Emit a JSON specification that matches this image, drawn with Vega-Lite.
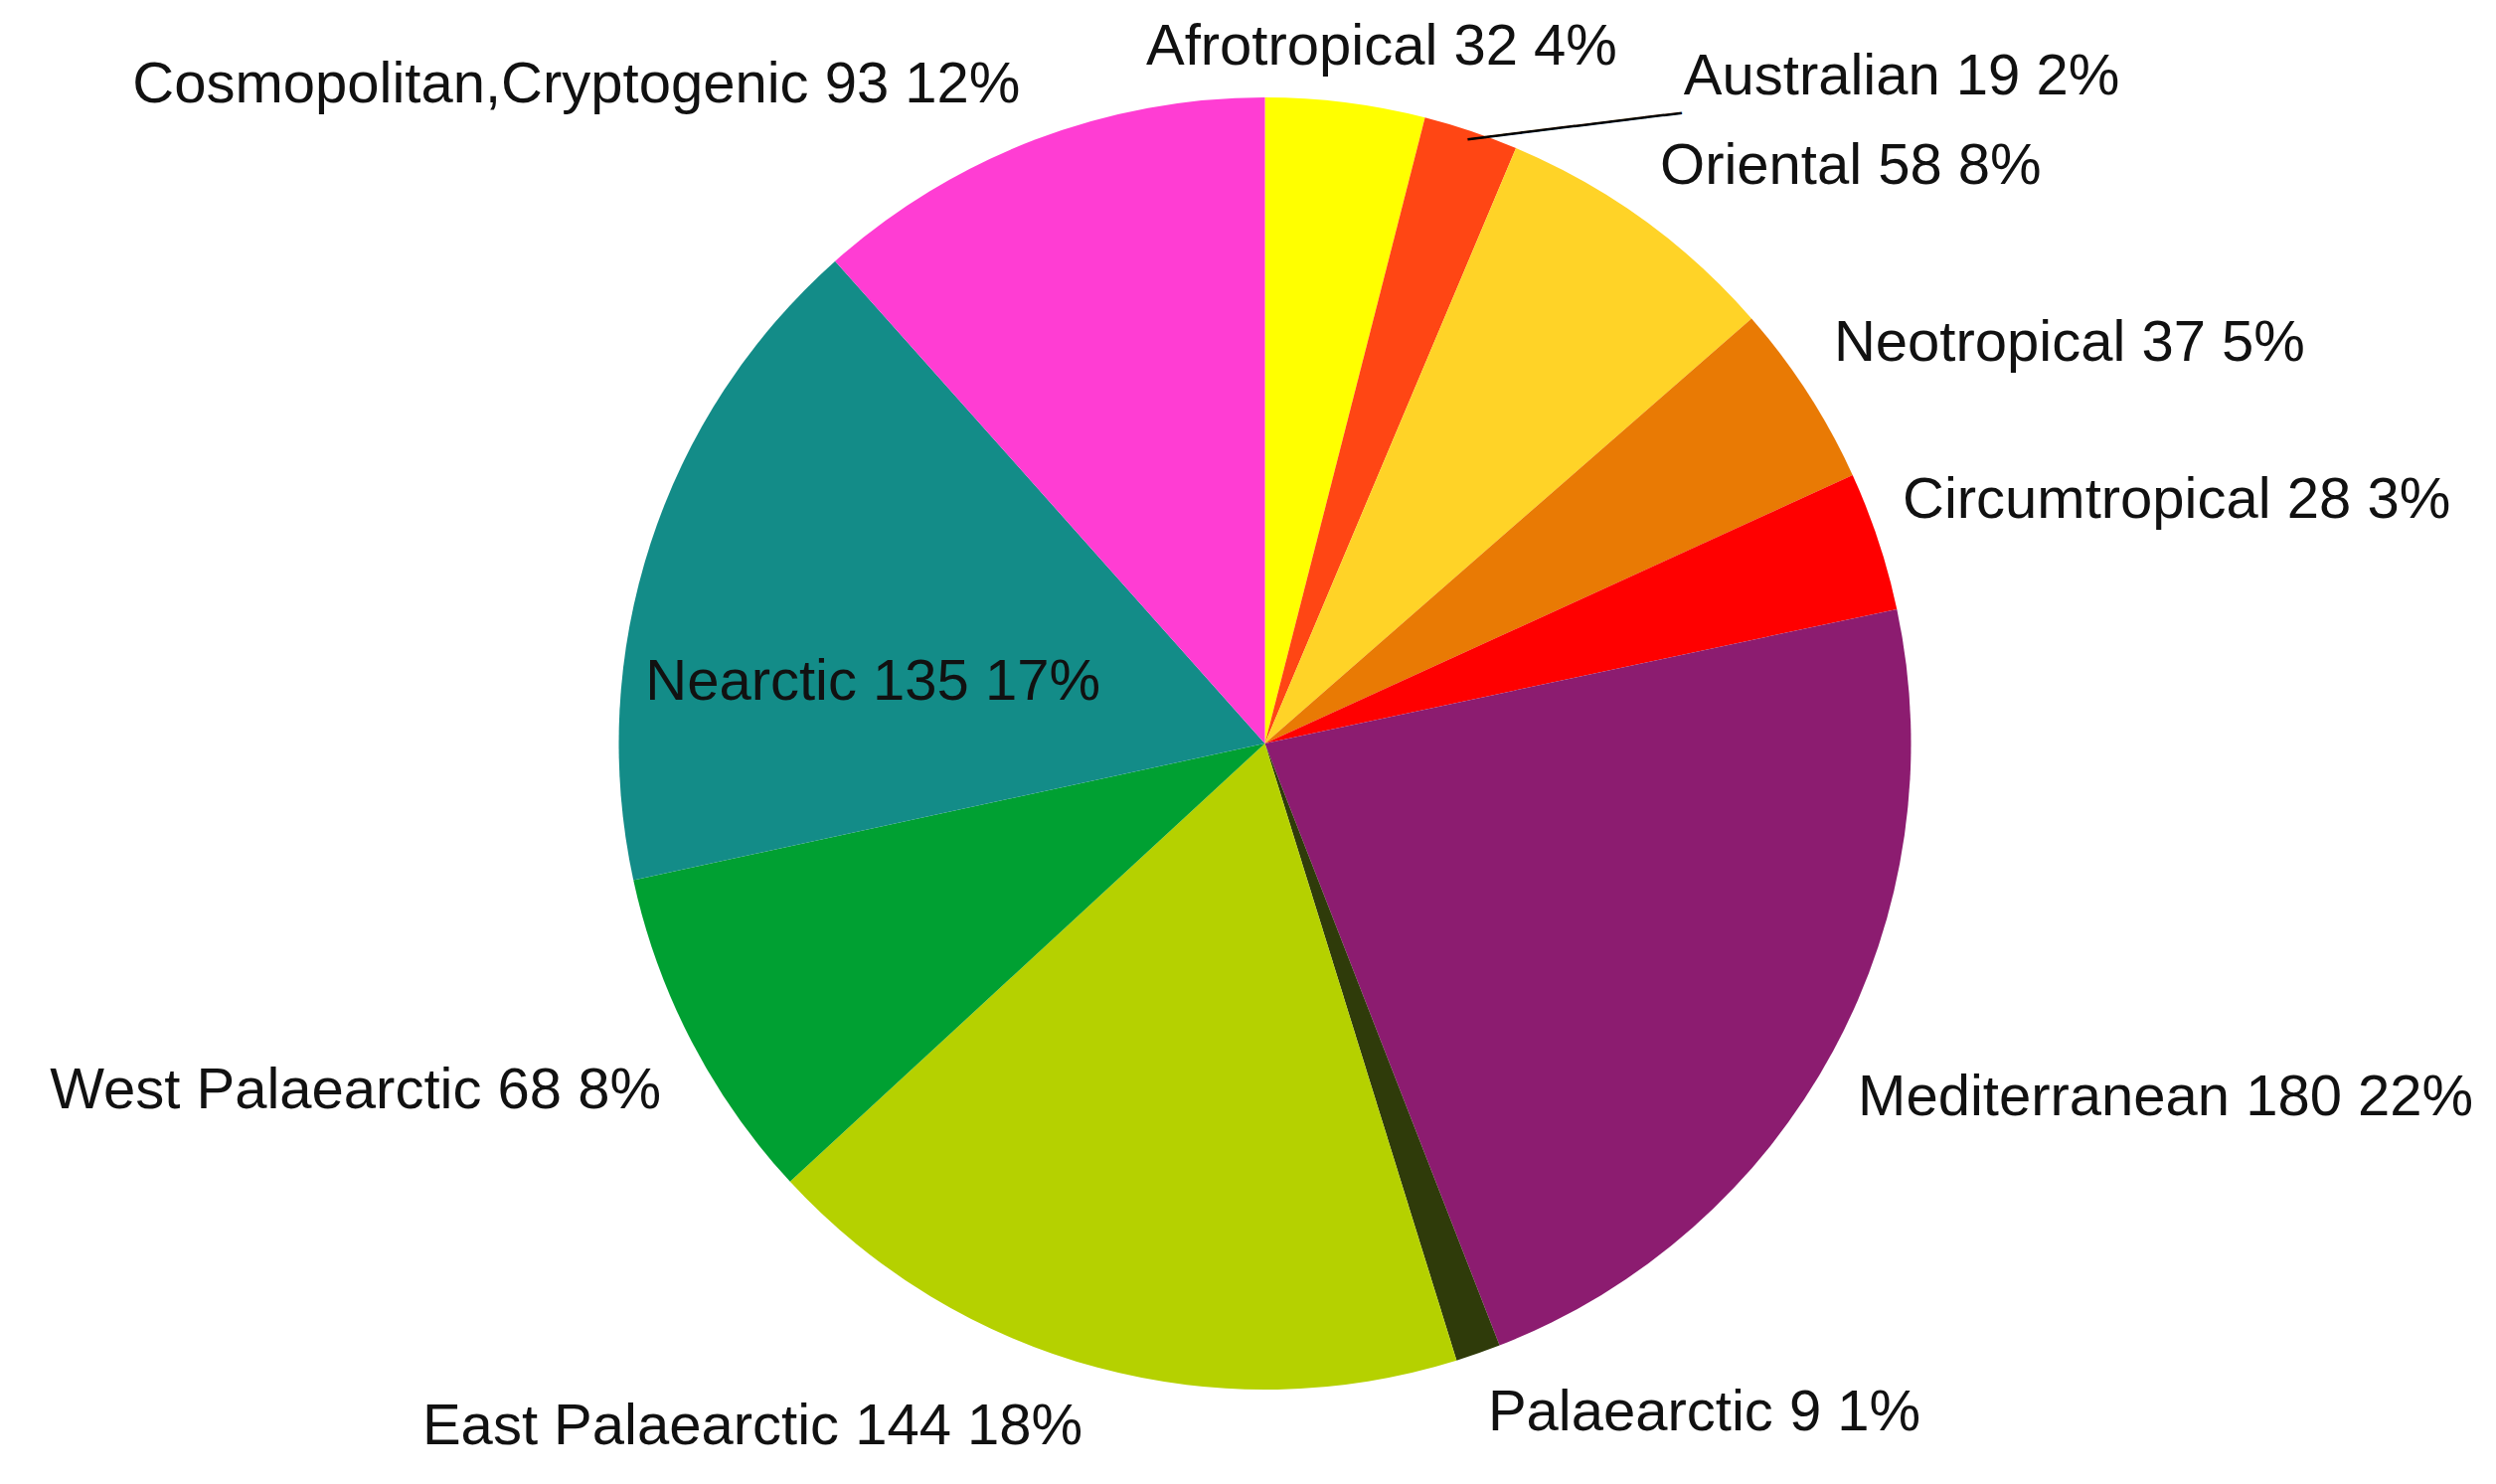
{
  "$schema": "https://vega.github.io/schema/vega-lite/v6.json",
  "width": 2477,
  "height": 1490,
  "autosize": "none",
  "padding": {"left": 34, "top": 3, "right": 0, "bottom": 0},
  "background": "white",
  "config": {"view": {"stroke": null}},
  "data": {
    "values": [
      {"region": "Afrotropical", "count": 32, "pct": 4},
      {"region": "Australian", "count": 19, "pct": 2},
      {"region": "Oriental", "count": 58, "pct": 8},
      {"region": "Neotropical", "count": 37, "pct": 5},
      {"region": "Circumtropical", "count": 28, "pct": 3},
      {"region": "Mediterranean", "count": 180, "pct": 22},
      {"region": "Palaearctic", "count": 9, "pct": 1},
      {"region": "East Palaearctic", "count": 144, "pct": 18},
      {"region": "West Palaearctic", "count": 68, "pct": 8},
      {"region": "Nearctic", "count": 135, "pct": 17},
      {"region": "Cosmopolitan,Cryptogenic", "count": 93, "pct": 12}
    ]
  },
  "transform": [
    {"window": [{"op": "row_number", "as": "idx"}]},
    {"stack": "count", "groupby": [], "sort": [{"field": "idx", "order": "ascending"}], "as": ["t0", "t1"]},
    {"calculate": "(datum.t0 + datum.t1) / 2", "as": "mid"},
    {"calculate": "datum.region + ' ' + datum.count + ' ' + datum.pct + '%'", "as": "label"}
  ],
  "layer": [
    {
      "mark": {"type": "arc", "outerRadius": 650, "stroke": null},
      "encoding": {
        "theta": {"field": "t0", "type": "quantitative", "stack": null, "scale": {"domain": [0, 803]}},
        "theta2": {"field": "t1"},
        "color": {
          "field": "region", "type": "nominal", "legend": null,
          "scale": {
            "domain": ["Afrotropical", "Australian", "Oriental", "Neotropical", "Circumtropical", "Mediterranean", "Palaearctic", "East Palaearctic", "West Palaearctic", "Nearctic", "Cosmopolitan,Cryptogenic"],
            "range": ["#FFFF00", "#FF4614", "#FFD327", "#E97A04", "#FF0000", "#8C1C70", "#2F3B0A", "#B5D100", "#00A032", "#138C88", "#FF3DD3"]
          }
        }
      }
    },
    {
      "transform": [{"filter": "datum.region === 'Australian'"}],
      "mark": {"type": "text", "radius": 640, "align": "left", "baseline": "middle", "angle": -7, "font": "DejaVu Sans Mono", "fontSize": 30, "color": "#000", "text": "────────────"},
      "encoding": {"theta": {"field": "mid", "type": "quantitative", "stack": null, "scale": {"domain": [0, 803]}}}
    },
    {
      "transform": [{"filter": "datum.region === 'Afrotropical'"}],
      "mark": {"type": "text", "radius": 700, "align": "center", "baseline": "middle", "dx": 30, "dy": -5.5, "font": "Liberation Sans", "fontSize": 58, "color": "#111"},
      "encoding": {"theta": {"field": "mid", "type": "quantitative", "stack": null, "scale": {"domain": [0, 803]}}, "text": {"field": "label"}}
    },
    {
      "transform": [{"filter": "datum.region === 'Australian'"}],
      "mark": {"type": "text", "radius": 700, "align": "left", "baseline": "middle", "dx": 198, "dy": -6.6, "font": "Liberation Sans", "fontSize": 58, "color": "#111"},
      "encoding": {"theta": {"field": "mid", "type": "quantitative", "stack": null, "scale": {"domain": [0, 803]}}, "text": {"field": "label"}}
    },
    {
      "transform": [{"filter": "datum.region === 'Oriental'"}],
      "mark": {"type": "text", "radius": 700, "align": "left", "baseline": "middle", "dx": -12.6, "dy": -12.7, "font": "Liberation Sans", "fontSize": 58, "color": "#111"},
      "encoding": {"theta": {"field": "mid", "type": "quantitative", "stack": null, "scale": {"domain": [0, 803]}}, "text": {"field": "label"}}
    },
    {
      "transform": [{"filter": "datum.region === 'Neotropical'"}],
      "mark": {"type": "text", "radius": 700, "align": "left", "baseline": "middle", "dx": -15.7, "dy": -22.5, "font": "Liberation Sans", "fontSize": 58, "color": "#111"},
      "encoding": {"theta": {"field": "mid", "type": "quantitative", "stack": null, "scale": {"domain": [0, 803]}}, "text": {"field": "label"}}
    },
    {
      "transform": [{"filter": "datum.region === 'Circumtropical'"}],
      "mark": {"type": "text", "radius": 700, "align": "left", "baseline": "middle", "dx": -23.2, "dy": -24.6, "font": "Liberation Sans", "fontSize": 58, "color": "#111"},
      "encoding": {"theta": {"field": "mid", "type": "quantitative", "stack": null, "scale": {"domain": [0, 803]}}, "text": {"field": "label"}}
    },
    {
      "transform": [{"filter": "datum.region === 'Mediterranean'"}],
      "mark": {"type": "text", "radius": 700, "align": "left", "baseline": "middle", "dx": -19.4, "dy": 24.5, "font": "Liberation Sans", "fontSize": 58, "color": "#111"},
      "encoding": {"theta": {"field": "mid", "type": "quantitative", "stack": null, "scale": {"domain": [0, 803]}}, "text": {"field": "label"}}
    },
    {
      "transform": [{"filter": "datum.region === 'Palaearctic'"}],
      "mark": {"type": "text", "radius": 700, "align": "left", "baseline": "middle", "dx": -6.7, "dy": 13.3, "font": "Liberation Sans", "fontSize": 58, "color": "#111"},
      "encoding": {"theta": {"field": "mid", "type": "quantitative", "stack": null, "scale": {"domain": [0, 803]}}, "text": {"field": "label"}}
    },
    {
      "transform": [{"filter": "datum.region === 'East Palaearctic'"}],
      "mark": {"type": "text", "radius": 700, "align": "right", "baseline": "middle", "dx": -2, "dy": 12, "font": "Liberation Sans", "fontSize": 58, "color": "#111"},
      "encoding": {"theta": {"field": "mid", "type": "quantitative", "stack": null, "scale": {"domain": [0, 803]}}, "text": {"field": "label"}}
    },
    {
      "transform": [{"filter": "datum.region === 'West Palaearctic'"}],
      "mark": {"type": "text", "radius": 700, "align": "right", "baseline": "middle", "dx": 13.6, "dy": 27, "font": "Liberation Sans", "fontSize": 58, "color": "#111"},
      "encoding": {"theta": {"field": "mid", "type": "quantitative", "stack": null, "scale": {"domain": [0, 803]}}, "text": {"field": "label"}}
    },
    {
      "transform": [{"filter": "datum.region === 'Nearctic'"}],
      "mark": {"type": "text", "radius": 400, "align": "center", "baseline": "middle", "dx": -14, "dy": 63, "font": "Liberation Sans", "fontSize": 58, "color": "#111"},
      "encoding": {"theta": {"field": "mid", "type": "quantitative", "stack": null, "scale": {"domain": [0, 803]}}, "text": {"field": "label"}}
    },
    {
      "transform": [{"filter": "datum.region === 'Cosmopolitan,Cryptogenic'"}],
      "mark": {"type": "text", "radius": 700, "align": "right", "baseline": "middle", "dx": 3, "dy": -8, "font": "Liberation Sans", "fontSize": 58, "color": "#111"},
      "encoding": {"theta": {"field": "mid", "type": "quantitative", "stack": null, "scale": {"domain": [0, 803]}}, "text": {"field": "label"}}
    }
  ]
}
